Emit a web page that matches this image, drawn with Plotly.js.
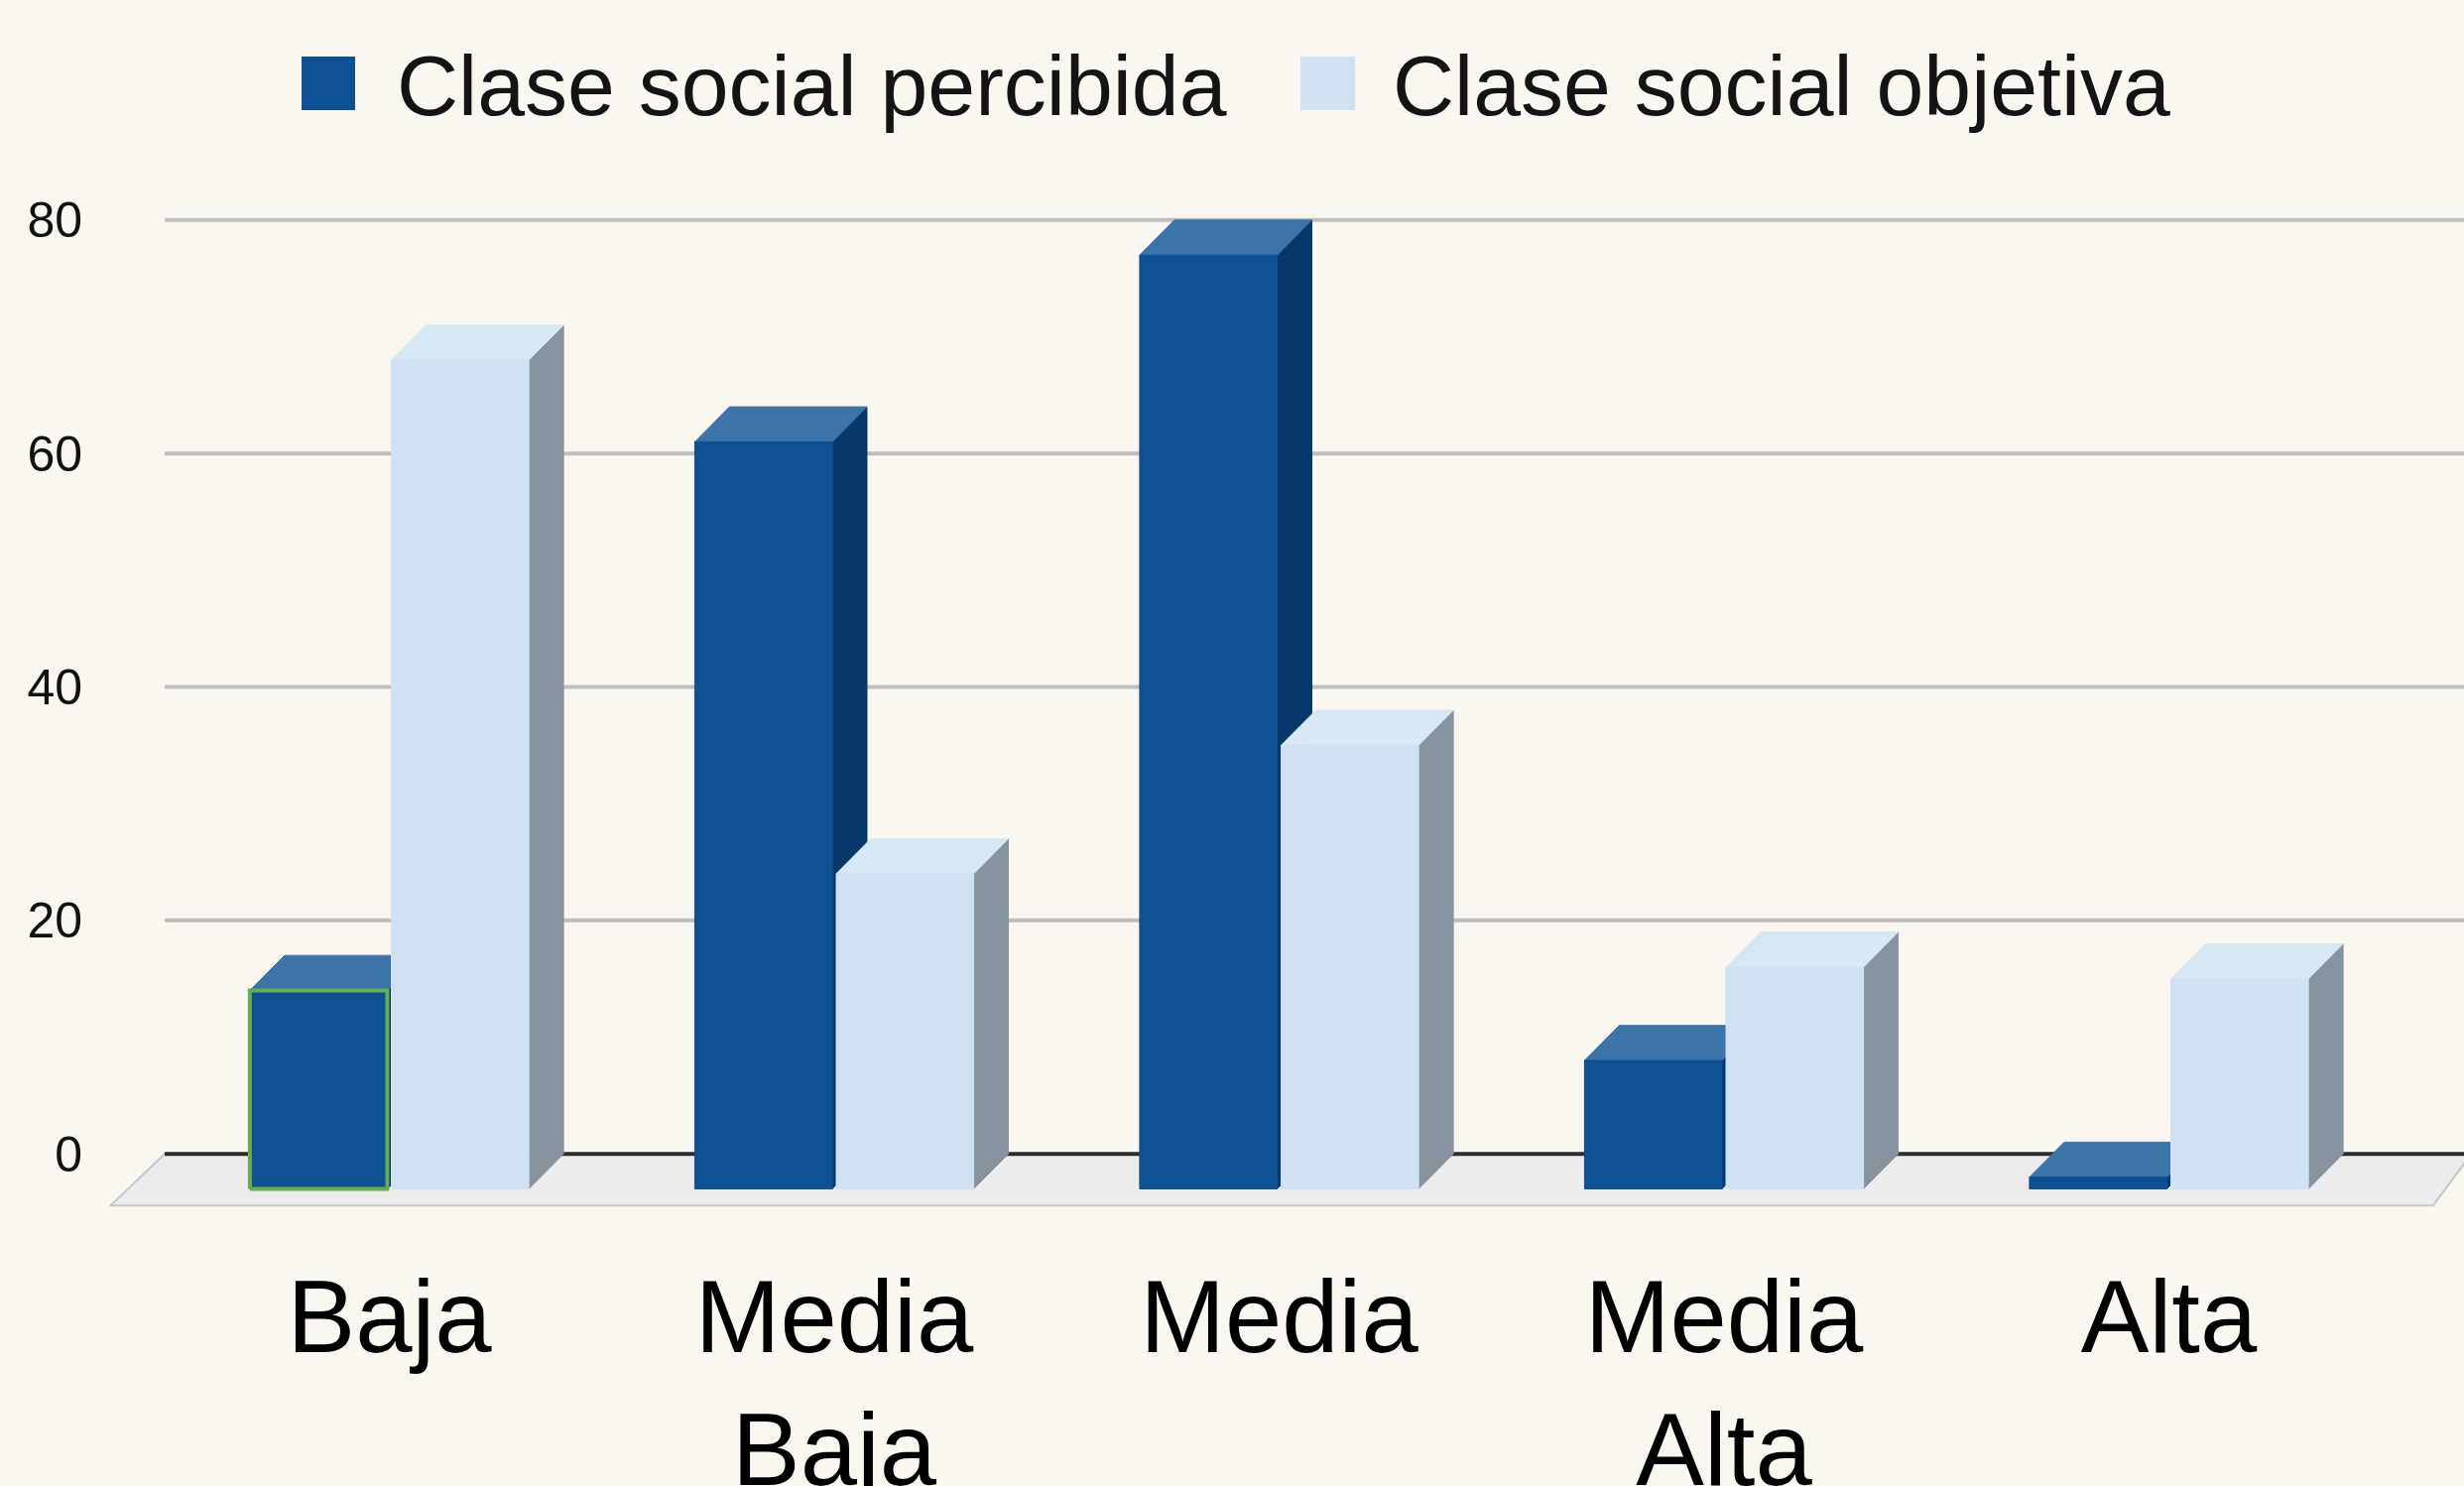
<!DOCTYPE html>
<html>
<head>
<meta charset="utf-8">
<script src="https://cdn.plot.ly/plotly-3.0.1.min.js"></script>
<style>
  html, body { margin: 0; padding: 0; background: #f9f7f0; }
  #chart { width: 2484px; height: 1498px; }
</style>
</head>
<body>
<div id="chart"></div>
<script>
// ---------------- data ----------------
const categories = ["Baja", "Media Baja", "Media", "Media Alta", "Alta"];
const percibida = [17, 64, 80, 11, 1];
const objetiva = [71, 27, 38, 19, 18];
const yTicks = [0, 20, 40, 60, 80];
const seriesNames = ["Clase social percibida", "Clase social objetiva"];

// ---------------- geometry / style ----------------
const W = 2484, H = 1498;
const M = { l: 100, r: 0, t: 163, b: 276 };
const X_RANGE = [-0.6522, 4.6633];
const Y_RANGE = [-5, 85];
const BAR_W = 0.309;   // front-face width (x units)
const GAP = 0.0045;    // half gap between the pair
const DX = 0.078;      // depth offset in x units
const DY = 3.0;        // depth offset in y units
const FLOOR = { backL: -0.505, backR: 4.68, frontL: -0.6266, frontR: 4.594, depth: -4.42 };

const COLORS = {
  bg: "#f9f7f0",
  perc: { front: "#0e5092", top: "#3c74a9", side: "#07386a" },
  obj:  { front: "#cfe1f2", top: "#d8e7f5", side: "#8893a0" },
  grid: "#bebebe", base: "#2c2c2c", floor: "#ececec", floorEdge: "#c6c6c6",
  highlight: "#66ad50"
};

function faces(values, offset) {
  const f = { fx: [], fy: [], tx: [], ty: [], sx: [], sy: [] };
  values.forEach((v, i) => {
    const x0 = i + offset, x1 = x0 + BAR_W;
    f.fx.push(x0, x1, x1, x0, x0, null);
    f.fy.push(-DY, -DY, v - DY, v - DY, -DY, null);
    f.tx.push(x0, x1, x1 + DX, x0 + DX, x0, null);
    f.ty.push(v - DY, v - DY, v, v, v - DY, null);
    f.sx.push(x1, x1 + DX, x1 + DX, x1, x1, null);
    f.sy.push(-DY, 0, v, v - DY, -DY, null);
  });
  return f;
}

function poly(x, y, color, name) {
  return {
    type: "scatter", mode: "lines", x: x, y: y, fill: "toself",
    fillcolor: color, line: { color: color, width: 1 },
    hoverinfo: "skip", showlegend: false, name: name
  };
}

const fp = faces(percibida, -GAP - BAR_W);
const fo = faces(objetiva, GAP);

const traces = [
  poly(fp.sx, fp.sy, COLORS.perc.side, seriesNames[0]),
  poly(fp.tx, fp.ty, COLORS.perc.top, seriesNames[0]),
  poly(fp.fx, fp.fy, COLORS.perc.front, seriesNames[0]),
  // selection outline seen on the first bar
  {
    type: "scatter", mode: "lines",
    x: fp.fx.slice(0, 5), y: fp.fy.slice(0, 5),
    line: { color: COLORS.highlight, width: 4 }, hoverinfo: "skip", showlegend: false
  },
  poly(fo.sx, fo.sy, COLORS.obj.side, seriesNames[1]),
  poly(fo.tx, fo.ty, COLORS.obj.top, seriesNames[1]),
  poly(fo.fx, fo.fy, COLORS.obj.front, seriesNames[1])
];

// helpers: pixel -> paper
const plotW = W - M.l - M.r, plotH = H - M.t - M.b;
const px = x => (x - M.l) / plotW;
const py = y => (H - M.b - y) / plotH;

const shapes = [];
// floor
shapes.push({
  type: "path", xref: "x", yref: "y", layer: "below",
  path: `M${FLOOR.backL},0 L${FLOOR.backR},0 L${FLOOR.frontR},${FLOOR.depth} L${FLOOR.frontL},${FLOOR.depth} Z`,
  fillcolor: COLORS.floor, line: { color: COLORS.floorEdge, width: 2 }
});
// grid lines on the back wall
yTicks.filter(t => t !== 0).forEach(t => {
  shapes.push({
    type: "line", xref: "x", yref: "y", layer: "below",
    x0: FLOOR.backL, x1: X_RANGE[1] + 0.1, y0: t, y1: t,
    line: { color: COLORS.grid, width: 4 }
  });
});
// base line
shapes.push({
  type: "line", xref: "x", yref: "y", layer: "below",
  x0: FLOOR.backL, x1: X_RANGE[1] + 0.1, y0: 0, y1: 0,
  line: { color: COLORS.base, width: 4 }
});

// custom legend
const legendItems = [
  { sq: [304, 358], tx: 398, color: COLORS.perc.front, text: seriesNames[0] },
  { sq: [1311, 1366], tx: 1402, color: COLORS.obj.front, text: seriesNames[1] }
];
const annotations = [];
legendItems.forEach(it => {
  shapes.push({
    type: "rect", xref: "paper", yref: "paper",
    x0: px(it.sq[0]), x1: px(it.sq[1]), y0: py(111), y1: py(57),
    fillcolor: it.color, line: { width: 0 }
  });
  annotations.push({
    xref: "paper", yref: "paper", x: px(it.tx), y: py(86),
    xanchor: "left", yanchor: "middle", showarrow: false,
    text: it.text, font: { family: "Liberation Sans, Arial, sans-serif", size: 86, color: "#141414" }
  });
});

const layout = {
  width: W, height: H,
  margin: M,
  paper_bgcolor: COLORS.bg, plot_bgcolor: COLORS.bg,
  showlegend: false,
  font: { family: "Liberation Sans, Arial, sans-serif", color: "#000" },
  xaxis: {
    range: X_RANGE, showgrid: false, zeroline: false, showline: false, ticks: "",
    tickvals: categories.map((c, i) => i),
    ticktext: categories.map(c => c.replace(" ", "<br>")),
    tickfont: { size: 103, color: "#000" },
    ticklabelstandoff: 37, fixedrange: true
  },
  yaxis: {
    range: Y_RANGE, showgrid: false, zeroline: false, showline: false, ticks: "",
    tickvals: yTicks, ticktext: yTicks.map(String),
    tickfont: { size: 50, color: "#111" },
    ticklabelstandoff: 16, fixedrange: true
  },
  shapes: shapes,
  annotations: annotations
};

Plotly.newPlot("chart", traces, layout, { displayModeBar: false, staticPlot: true });
</script>
</body>
</html>
